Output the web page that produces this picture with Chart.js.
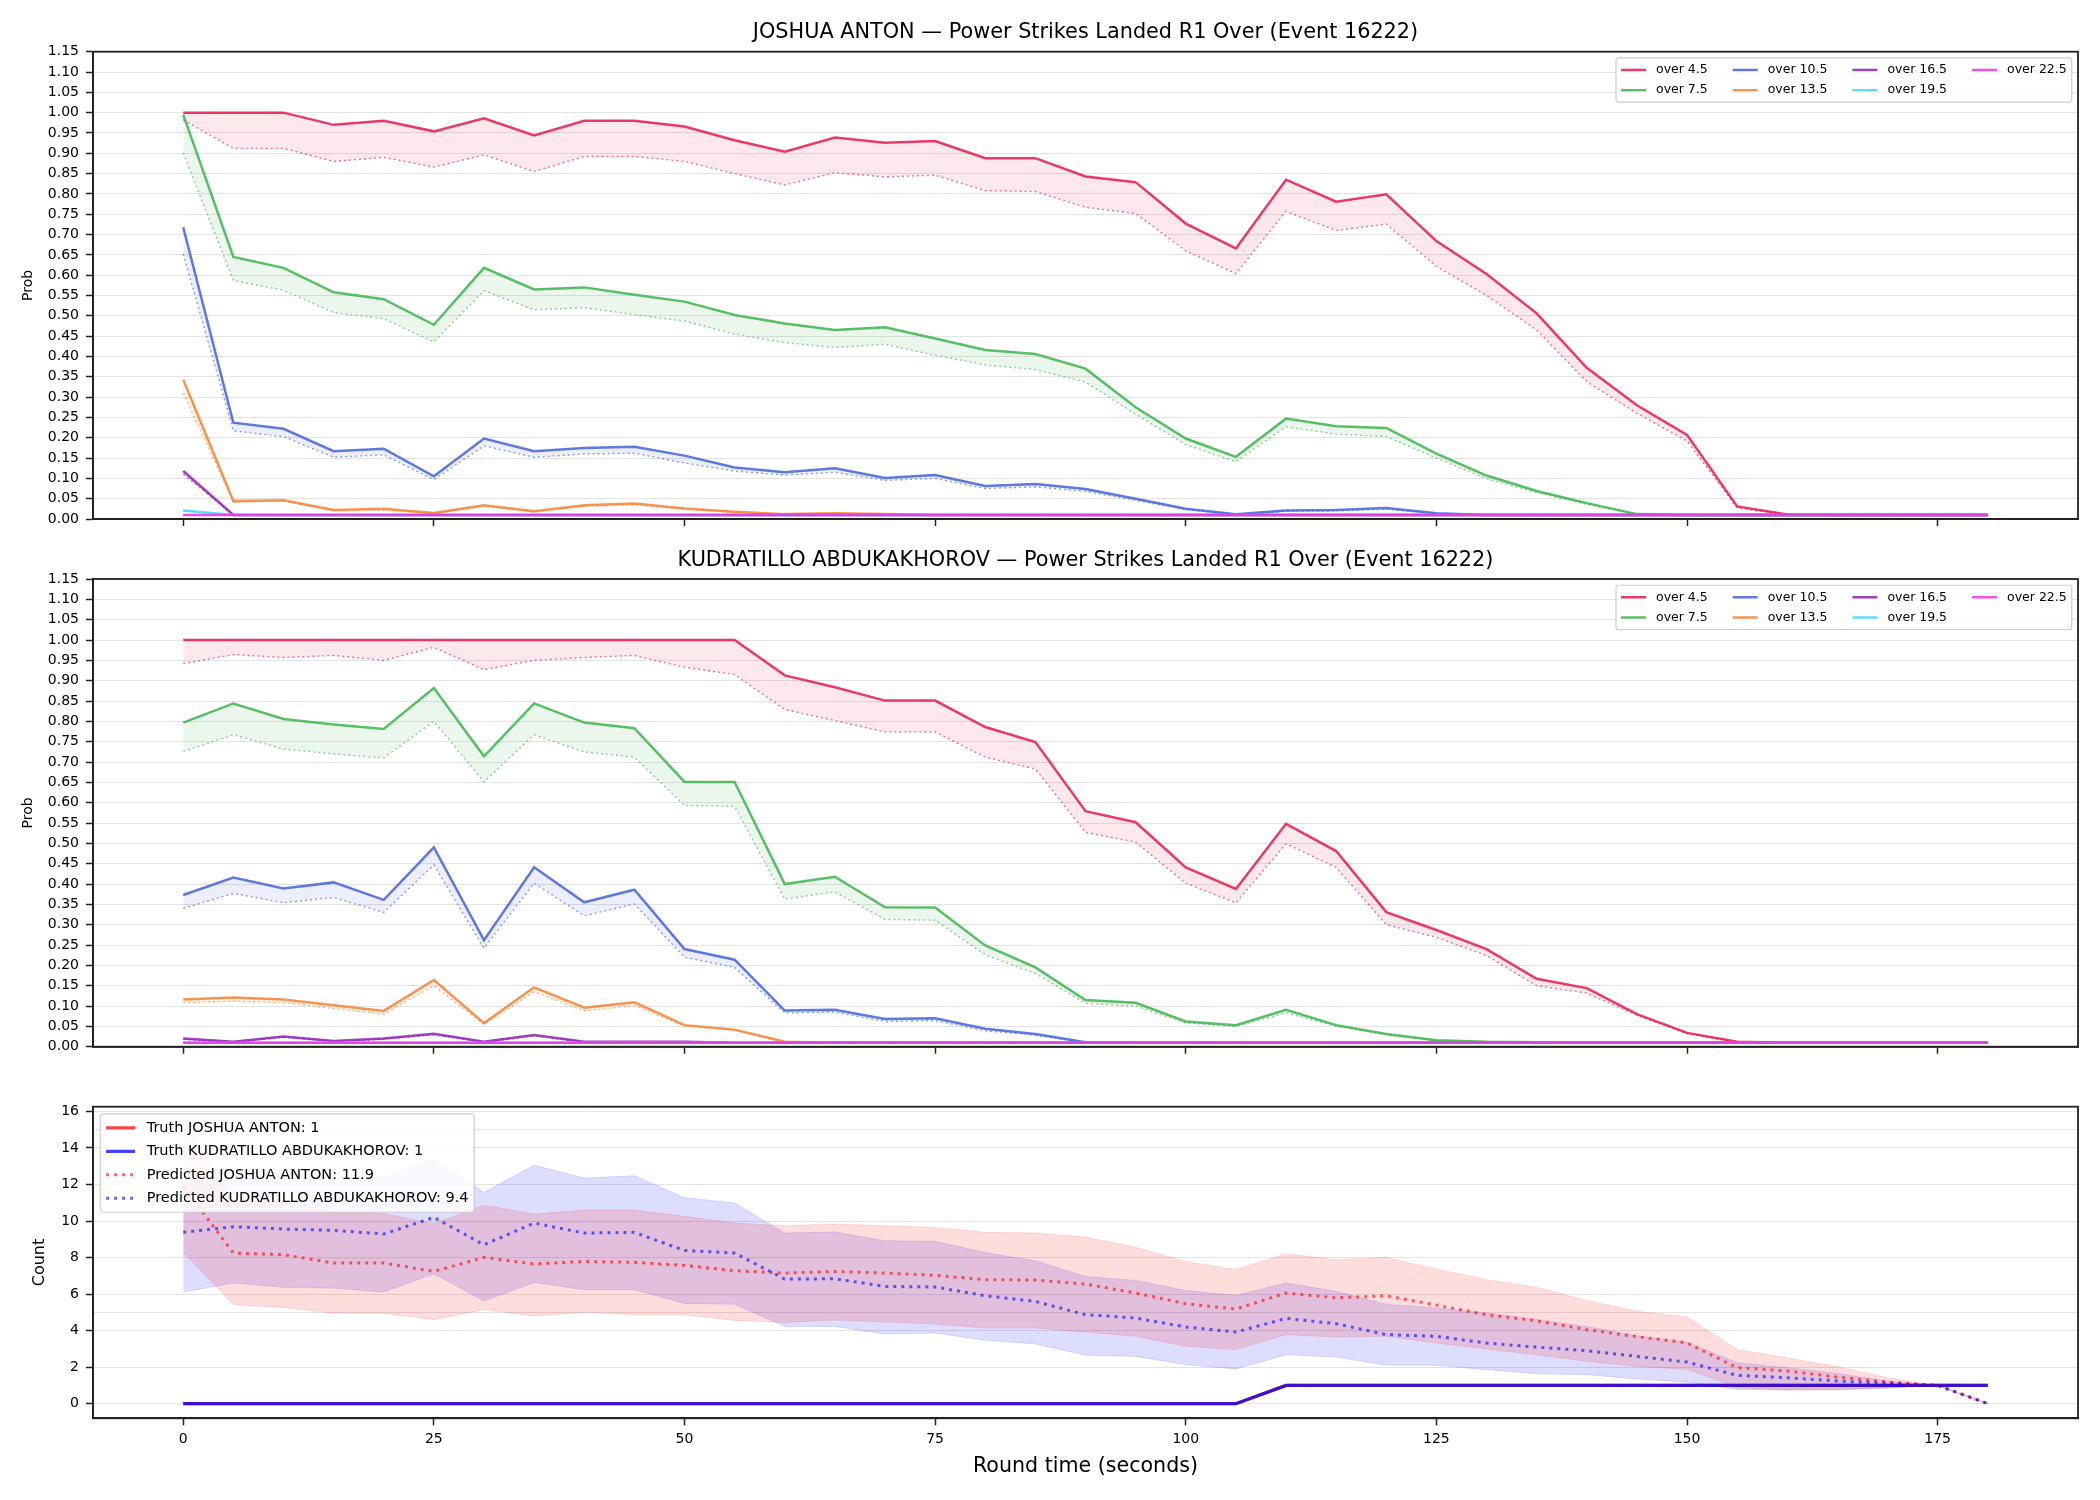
<!DOCTYPE html>
<html>
<head>
<meta charset="utf-8">
<script src="https://cdn.jsdelivr.net/npm/chart.js@4.4.1/dist/chart.umd.min.js"></script>
<style>
  html, body { margin: 0; padding: 0; background: #fff; }
  #wrap { position: relative; width: 2100px; height: 1500px; }
  canvas { position: absolute; left: 0; }
</style>
</head>
<body>
<div id="wrap">
  <canvas id="panelA" width="2100" height="540" style="top:0px"></canvas>
  <canvas id="panelB" width="2100" height="536" style="top:540px"></canvas>
  <canvas id="panelC" width="2100" height="424" style="top:1076px"></canvas>
</div>
<script>
// round time (seconds)
const times = [0, 5, 10, 15, 20, 25, 30, 35, 40, 45, 50, 55, 60, 65, 70, 75, 80, 85, 90, 95,
  100, 105, 110, 115, 120, 125, 130, 135, 140, 145, 150, 155, 160, 165, 170, 175, 180];
const timeTicks = [0, 25, 50, 75, 100, 125, 150, 175];
const probTicks = [0, 0.05, 0.10, 0.15, 0.20, 0.25, 0.30, 0.35, 0.40, 0.45, 0.50, 0.55,
  0.60, 0.65, 0.70, 0.75, 0.80, 0.85, 0.90, 0.95, 1.00, 1.05, 1.10, 1.15];
const countTicks = [0, 2, 4, 6, 8, 10, 12, 14, 16];
const countExtraGrid = [5, 15];

const fighters = ['JOSHUA ANTON', 'KUDRATILLO ABDUKAKHOROV'];
const lines = ['over 4.5', 'over 7.5', 'over 10.5', 'over 13.5', 'over 16.5', 'over 19.5', 'over 22.5'];

// JOSHUA ANTON: market line (solid) and lower line (dotted)
const antonO45 = [1.000, 1.000, 1.000, 0.970, 0.980, 0.954, 0.986, 0.944, 0.980, 0.980,
  0.966, 0.932, 0.904, 0.939, 0.926, 0.930, 0.888, 0.888, 0.843, 0.829,
  0.727, 0.666, 0.835, 0.781, 0.799, 0.684, 0.603, 0.506, 0.372, 0.280,
  0.207, 0.031, 0.011, 0.010, 0.010, 0.010, 0.010];
const antonO45Low = [0.982, 0.912, 0.912, 0.880, 0.890, 0.866, 0.896, 0.855, 0.892, 0.892,
  0.880, 0.850, 0.822, 0.852, 0.842, 0.846, 0.808, 0.806, 0.767, 0.752,
  0.660, 0.604, 0.757, 0.710, 0.726, 0.622, 0.550, 0.465, 0.338, 0.260,
  0.192, 0.027, 0.010, 0.010, 0.010, 0.010, 0.010];
const antonO75 = [0.995, 0.645, 0.618, 0.558, 0.541, 0.478, 0.618, 0.565, 0.570, 0.552,
  0.535, 0.502, 0.481, 0.465, 0.472, 0.444, 0.416, 0.406, 0.370, 0.275,
  0.198, 0.153, 0.247, 0.228, 0.224, 0.161, 0.107, 0.069, 0.039, 0.012,
  0.010, 0.010, 0.010, 0.010, 0.010, 0.010, 0.010];
const antonO75Low = [0.901, 0.587, 0.563, 0.508, 0.493, 0.436, 0.562, 0.515, 0.520, 0.503,
  0.487, 0.455, 0.434, 0.422, 0.430, 0.403, 0.379, 0.368, 0.337, 0.258,
  0.183, 0.141, 0.227, 0.209, 0.203, 0.150, 0.099, 0.065, 0.036, 0.011,
  0.010, 0.010, 0.010, 0.010, 0.010, 0.010, 0.010];
const antonO105 = [0.718, 0.237, 0.222, 0.167, 0.173, 0.105, 0.198, 0.167, 0.175, 0.178,
  0.156, 0.127, 0.115, 0.125, 0.101, 0.108, 0.081, 0.086, 0.074, 0.050,
  0.025, 0.012, 0.021, 0.022, 0.027, 0.014, 0.010, 0.010, 0.010, 0.010,
  0.010, 0.010, 0.010, 0.010, 0.010, 0.010, 0.010];
const antonO105Low = [0.652, 0.217, 0.203, 0.152, 0.158, 0.097, 0.180, 0.152, 0.160, 0.162,
  0.138, 0.118, 0.108, 0.115, 0.095, 0.100, 0.075, 0.079, 0.068, 0.046,
  0.023, 0.011, 0.019, 0.020, 0.024, 0.013, 0.010, 0.010, 0.010, 0.010,
  0.010, 0.010, 0.010, 0.010, 0.010, 0.010, 0.010];
const antonO135 = [0.343, 0.044, 0.046, 0.022, 0.025, 0.015, 0.034, 0.019, 0.034, 0.038,
  0.026, 0.018, 0.012, 0.014, 0.012, 0.010, 0.010, 0.010, 0.010, 0.010,
  0.010, 0.010, 0.010, 0.010, 0.010, 0.010, 0.010, 0.010, 0.010, 0.010,
  0.010, 0.010, 0.010, 0.010, 0.010, 0.010, 0.010];
const antonO135Low = [0.310, 0.042, 0.044, 0.020, 0.022, 0.013, 0.031, 0.017, 0.031, 0.035,
  0.024, 0.016, 0.011, 0.013, 0.011, 0.010, 0.010, 0.010, 0.010, 0.010,
  0.010, 0.010, 0.010, 0.010, 0.010, 0.010, 0.010, 0.010, 0.010, 0.010,
  0.010, 0.010, 0.010, 0.010, 0.010, 0.010, 0.010];
const antonO165 = [0.118, 0.010, 0.010, 0.010, 0.010, 0.010, 0.010, 0.010, 0.010, 0.010,
  0.010, 0.010, 0.010, 0.010, 0.010, 0.010, 0.010, 0.010, 0.010, 0.010,
  0.010, 0.010, 0.010, 0.010, 0.010, 0.010, 0.010, 0.010, 0.010, 0.010,
  0.010, 0.010, 0.010, 0.010, 0.010, 0.010, 0.010];
const antonO165Low = [0.110, 0.010, 0.010, 0.010, 0.010, 0.010, 0.010, 0.010, 0.010, 0.010,
  0.010, 0.010, 0.010, 0.010, 0.010, 0.010, 0.010, 0.010, 0.010, 0.010,
  0.010, 0.010, 0.010, 0.010, 0.010, 0.010, 0.010, 0.010, 0.010, 0.010,
  0.010, 0.010, 0.010, 0.010, 0.010, 0.010, 0.010];
const antonO195 = [0.021, 0.010, 0.010, 0.010, 0.010, 0.010, 0.010, 0.010, 0.010, 0.010,
  0.010, 0.010, 0.010, 0.010, 0.010, 0.010, 0.010, 0.010, 0.010, 0.010,
  0.010, 0.010, 0.010, 0.010, 0.010, 0.010, 0.010, 0.010, 0.010, 0.010,
  0.010, 0.010, 0.010, 0.010, 0.010, 0.010, 0.010];
const antonO195Low = [0.019, 0.010, 0.010, 0.010, 0.010, 0.010, 0.010, 0.010, 0.010, 0.010,
  0.010, 0.010, 0.010, 0.010, 0.010, 0.010, 0.010, 0.010, 0.010, 0.010,
  0.010, 0.010, 0.010, 0.010, 0.010, 0.010, 0.010, 0.010, 0.010, 0.010,
  0.010, 0.010, 0.010, 0.010, 0.010, 0.010, 0.010];
const antonO225 = [0.010, 0.010, 0.010, 0.010, 0.010, 0.010, 0.010, 0.010, 0.010, 0.010,
  0.010, 0.010, 0.010, 0.010, 0.010, 0.010, 0.010, 0.010, 0.010, 0.010,
  0.010, 0.010, 0.010, 0.010, 0.010, 0.010, 0.010, 0.010, 0.010, 0.010,
  0.010, 0.010, 0.010, 0.010, 0.010, 0.010, 0.010];
const antonO225Low = [0.010, 0.010, 0.010, 0.010, 0.010, 0.010, 0.010, 0.010, 0.010, 0.010,
  0.010, 0.010, 0.010, 0.010, 0.010, 0.010, 0.010, 0.010, 0.010, 0.010,
  0.010, 0.010, 0.010, 0.010, 0.010, 0.010, 0.010, 0.010, 0.010, 0.010,
  0.010, 0.010, 0.010, 0.010, 0.010, 0.010, 0.010];

// KUDRATILLO ABDUKAKHOROV
const abduO45 = [1.000, 1.000, 1.000, 1.000, 1.000, 1.000, 1.000, 1.000, 1.000, 1.000,
  1.000, 1.000, 0.913, 0.884, 0.851, 0.851, 0.786, 0.749, 0.579, 0.552,
  0.441, 0.388, 0.548, 0.481, 0.331, 0.287, 0.240, 0.167, 0.144, 0.080,
  0.034, 0.012, 0.010, 0.010, 0.010, 0.010, 0.010];
const abduO45Low = [0.942, 0.964, 0.957, 0.962, 0.950, 0.982, 0.927, 0.950, 0.957, 0.962,
  0.933, 0.915, 0.829, 0.802, 0.774, 0.774, 0.712, 0.683, 0.527, 0.503,
  0.402, 0.354, 0.499, 0.441, 0.300, 0.269, 0.224, 0.150, 0.132, 0.077,
  0.032, 0.011, 0.010, 0.010, 0.010, 0.010, 0.010];
const abduO75 = [0.797, 0.844, 0.806, 0.792, 0.781, 0.882, 0.714, 0.844, 0.797, 0.783,
  0.651, 0.651, 0.400, 0.418, 0.343, 0.342, 0.249, 0.195, 0.115, 0.108,
  0.062, 0.053, 0.091, 0.053, 0.031, 0.016, 0.012, 0.011, 0.010, 0.010,
  0.010, 0.010, 0.010, 0.010, 0.010, 0.010, 0.010];
const abduO75Low = [0.726, 0.767, 0.732, 0.720, 0.710, 0.800, 0.651, 0.767, 0.725, 0.712,
  0.593, 0.591, 0.363, 0.381, 0.313, 0.311, 0.226, 0.180, 0.107, 0.100,
  0.058, 0.050, 0.083, 0.050, 0.029, 0.015, 0.011, 0.010, 0.010, 0.010,
  0.010, 0.010, 0.010, 0.010, 0.010, 0.010, 0.010];
const abduO105 = [0.373, 0.416, 0.389, 0.404, 0.361, 0.490, 0.262, 0.441, 0.355, 0.386,
  0.240, 0.214, 0.089, 0.091, 0.068, 0.070, 0.044, 0.031, 0.011, 0.010,
  0.010, 0.010, 0.010, 0.010, 0.010, 0.010, 0.010, 0.010, 0.010, 0.010,
  0.010, 0.010, 0.010, 0.010, 0.010, 0.010, 0.010];
const abduO105Low = [0.340, 0.377, 0.354, 0.367, 0.330, 0.447, 0.242, 0.402, 0.322, 0.351,
  0.220, 0.195, 0.083, 0.085, 0.062, 0.064, 0.039, 0.028, 0.010, 0.010,
  0.010, 0.010, 0.010, 0.010, 0.010, 0.010, 0.010, 0.010, 0.010, 0.010,
  0.010, 0.010, 0.010, 0.010, 0.010, 0.010, 0.010];
const abduO135 = [0.116, 0.121, 0.116, 0.102, 0.088, 0.164, 0.058, 0.146, 0.096, 0.109,
  0.053, 0.042, 0.012, 0.010, 0.010, 0.010, 0.010, 0.010, 0.010, 0.010,
  0.010, 0.010, 0.010, 0.010, 0.010, 0.010, 0.010, 0.010, 0.010, 0.010,
  0.010, 0.010, 0.010, 0.010, 0.010, 0.010, 0.010];
const abduO135Low = [0.108, 0.112, 0.108, 0.094, 0.080, 0.150, 0.055, 0.135, 0.088, 0.101,
  0.050, 0.040, 0.011, 0.010, 0.010, 0.010, 0.010, 0.010, 0.010, 0.010,
  0.010, 0.010, 0.010, 0.010, 0.010, 0.010, 0.010, 0.010, 0.010, 0.010,
  0.010, 0.010, 0.010, 0.010, 0.010, 0.010, 0.010];
const abduO165 = [0.020, 0.012, 0.025, 0.014, 0.020, 0.032, 0.012, 0.029, 0.012, 0.012,
  0.012, 0.010, 0.010, 0.010, 0.010, 0.010, 0.010, 0.010, 0.010, 0.010,
  0.010, 0.010, 0.010, 0.010, 0.010, 0.010, 0.010, 0.010, 0.010, 0.010,
  0.010, 0.010, 0.010, 0.010, 0.010, 0.010, 0.010];
const abduO165Low = [0.018, 0.011, 0.023, 0.013, 0.018, 0.029, 0.011, 0.026, 0.011, 0.011,
  0.011, 0.010, 0.010, 0.010, 0.010, 0.010, 0.010, 0.010, 0.010, 0.010,
  0.010, 0.010, 0.010, 0.010, 0.010, 0.010, 0.010, 0.010, 0.010, 0.010,
  0.010, 0.010, 0.010, 0.010, 0.010, 0.010, 0.010];
const abduO195 = [0.010, 0.010, 0.010, 0.010, 0.010, 0.010, 0.010, 0.010, 0.010, 0.010,
  0.010, 0.010, 0.010, 0.010, 0.010, 0.010, 0.010, 0.010, 0.010, 0.010,
  0.010, 0.010, 0.010, 0.010, 0.010, 0.010, 0.010, 0.010, 0.010, 0.010,
  0.010, 0.010, 0.010, 0.010, 0.010, 0.010, 0.010];
const abduO195Low = abduO195;
const abduO225 = [0.010, 0.010, 0.010, 0.010, 0.010, 0.010, 0.010, 0.010, 0.010, 0.010,
  0.010, 0.010, 0.010, 0.010, 0.010, 0.010, 0.010, 0.010, 0.010, 0.010,
  0.010, 0.010, 0.010, 0.010, 0.010, 0.010, 0.010, 0.010, 0.010, 0.010,
  0.010, 0.010, 0.010, 0.010, 0.010, 0.010, 0.010];
const abduO225Low = abduO225;

// count panel
const truthAnton = [0, 0, 0, 0, 0, 0, 0, 0, 0, 0, 0, 0, 0, 0, 0, 0, 0, 0, 0, 0, 0, 0,
  1, 1, 1, 1, 1, 1, 1, 1, 1, 1, 1, 1, 1, 1, 1];
const truthAbdu = [0, 0, 0, 0, 0, 0, 0, 0, 0, 0, 0, 0, 0, 0, 0, 0, 0, 0, 0, 0, 0, 0,
  1, 1, 1, 1, 1, 1, 1, 1, 1, 1, 1, 1, 1, 1, 1];
const predAnton = [11.9, 8.25, 8.16, 7.70, 7.70, 7.24, 8.01, 7.65, 7.79, 7.74,
  7.57, 7.28, 7.15, 7.24, 7.15, 7.03, 6.79, 6.77, 6.55, 6.06,
  5.47, 5.18, 6.06, 5.80, 5.91, 5.40, 4.87, 4.54, 4.05, 3.67,
  3.33, 1.97, 1.79, 1.46, 1.18, 1.00, 0.00];
const predAbdu = [9.38, 9.69, 9.56, 9.49, 9.29, 10.20, 8.70, 9.89, 9.34, 9.38,
  8.39, 8.25, 6.82, 6.84, 6.42, 6.39, 5.91, 5.60, 4.87, 4.69,
  4.20, 3.92, 4.67, 4.38, 3.78, 3.69, 3.32, 3.10, 2.90, 2.59,
  2.28, 1.55, 1.42, 1.24, 1.11, 1.00, 0.00];
const antonHigh = [15.5, 11.08, 10.99, 10.47, 10.40, 9.85, 10.87, 10.38, 10.60, 10.60,
  10.26, 9.89, 9.74, 9.84, 9.74, 9.65, 9.38, 9.34, 9.12, 8.56,
  7.79, 7.34, 8.21, 7.88, 8.01, 7.37, 6.79, 6.37, 5.65, 5.06,
  4.75, 2.97, 2.51, 2.02, 1.42, 1.00, 0.00];
const antonLow = [8.28, 5.42, 5.27, 4.95, 4.95, 4.60, 5.16, 4.80, 5.00, 4.87,
  4.87, 4.56, 4.45, 4.58, 4.47, 4.36, 4.14, 4.14, 3.92, 3.69,
  3.14, 2.96, 3.78, 3.65, 3.69, 3.32, 2.99, 2.68, 2.32, 2.04,
  1.88, 0.87, 0.75, 0.75, 0.87, 1.00, 0.00];
const abduHigh = [12.6, 12.8, 12.6, 12.5, 12.4, 13.36, 11.57, 13.05, 12.35, 12.48,
  11.28, 10.99, 9.34, 9.40, 8.92, 8.89, 8.28, 7.83, 6.97, 6.75,
  6.20, 5.93, 6.61, 6.15, 5.44, 5.24, 4.96, 4.60, 4.23, 3.72,
  3.37, 2.24, 1.97, 1.66, 1.24, 1.00, 0.00];
const abduLow = [6.11, 6.61, 6.37, 6.33, 6.11, 7.12, 5.62, 6.64, 6.24, 6.24,
  5.49, 5.44, 4.23, 4.23, 3.81, 3.87, 3.47, 3.27, 2.65, 2.59,
  2.14, 1.90, 2.68, 2.55, 2.10, 2.10, 1.86, 1.64, 1.59, 1.35,
  1.18, 0.78, 0.75, 0.78, 0.85, 1.00, 0.00];

// colours
const lineColors = ['230,25,75', '60,180,75', '67,99,216', '245,130,49', '145,30,180', '66,212,244', '240,50,230'];
const rgba = (c, a) => 'rgba(' + c + ',' + a + ')';
const FONT = '"DejaVu Sans", sans-serif';

Chart.defaults.font.family = FONT;
Chart.defaults.color = '#000';

// frame round the plot area (all four spines)
const frame = {
  id: 'frame',
  afterDatasetsDraw(chart) {
    const { ctx, chartArea: a } = chart;
    ctx.save();
    ctx.strokeStyle = '#222';
    ctx.lineWidth = 1.8;
    ctx.strokeRect(a.left, a.top, a.right - a.left, a.bottom - a.top);
    ctx.restore();
  }
};

// title centred over the plot area
const axTitle = {
  id: 'axTitle',
  afterDraw(chart, args, opts) {
    if (!opts.text) return;
    const { ctx, chartArea: a } = chart;
    ctx.save();
    ctx.font = '20.8px ' + FONT;
    ctx.fillStyle = '#000';
    ctx.textAlign = 'center';
    ctx.textBaseline = 'middle';
    ctx.fillText(opts.text, (a.left + a.right) / 2, a.top - 18.7);
    ctx.restore();
  }
};

// boxed legend inside the plot, columns filled top to bottom
const boxLegend = {
  id: 'boxLegend',
  afterDatasetsDraw(chart, args, opts) {
    const items = chart.data.datasets.filter(d => d.inLegend);
    if (!items.length) return;
    const f = opts.fontSize, cols = opts.columns;
    const rows = Math.ceil(items.length / cols);
    const ctx = chart.ctx;
    ctx.save();
    ctx.font = f + 'px ' + FONT;
    const colW = [];
    for (let c = 0; c < cols; c++) {
      let w = 0;
      for (let r = 0; r < rows; r++) {
        const it = items[c * rows + r];
        if (it) w = Math.max(w, ctx.measureText(it.label).width);
      }
      colW.push(w);
    }
    const pad = 0.4 * f, hl = 2 * f, htp = 0.8 * f, cs = 2 * f, ls = 0.5 * f, rh = 1.12 * f, bap = 0.5 * f;
    const width = 2 * pad + colW.reduce((s, w) => s + hl + htp + w, 0) + cs * (cols - 1);
    const height = 2 * pad + rows * rh + (rows - 1) * ls;
    const a = chart.chartArea;
    const x0 = opts.corner === 'left' ? a.left + bap : a.right - bap - width;
    const y0 = a.top + bap;
    ctx.beginPath();
    if (ctx.roundRect) ctx.roundRect(x0, y0, width, height, 0.25 * f);
    else ctx.rect(x0, y0, width, height);
    ctx.fillStyle = 'rgba(255,255,255,0.8)';
    ctx.fill();
    ctx.strokeStyle = '#cccccc';
    ctx.lineWidth = 1.2;
    ctx.stroke();
    let x = x0 + pad;
    for (let c = 0; c < cols; c++) {
      for (let r = 0; r < rows; r++) {
        const it = items[c * rows + r];
        if (!it) continue;
        const cy = y0 + pad + r * (rh + ls) + rh / 2;
        ctx.beginPath();
        ctx.setLineDash(it.borderDash || []);
        ctx.strokeStyle = it.borderColor;
        ctx.lineWidth = it.borderWidth;
        ctx.moveTo(x, cy);
        ctx.lineTo(x + hl, cy);
        ctx.stroke();
        ctx.setLineDash([]);
        ctx.fillStyle = '#000';
        ctx.textAlign = 'left';
        ctx.textBaseline = 'middle';
        ctx.fillText(it.label, x + hl + htp, cy);
      }
      x += hl + htp + colW[c] + cs;
    }
    ctx.restore();
  }
};

function xAxis(axisHeight, withLabels) {
  return {
    type: 'linear', min: -9, max: 189,
    afterBuildTicks: ax => { ax.ticks = timeTicks.map(v => ({ value: v })); },
    afterFit: ax => { ax.height = axisHeight; },
    ticks: { display: withLabels, autoSkip: false, maxRotation: 0, padding: 6, color: '#000', font: { size: 14 } },
    grid: { drawOnChartArea: false, tickLength: 7, tickColor: '#222', tickWidth: 1.5 },
    border: { color: '#222', width: 1.8 },
    title: {
      display: withLabels, text: 'Round time (seconds)', color: '#000',
      font: { size: 20.6 }, padding: { top: 0, bottom: 21 }
    }
  };
}

function probChart(id, title, hi, lo, padTop, xHeight) {
  const datasets = [];
  hi.forEach((vals, k) => {
    datasets.push({
      label: lines[k], data: vals, inLegend: true,
      borderColor: rgba(lineColors[k], 0.85), borderWidth: 2.5,
      backgroundColor: rgba(lineColors[k], 0.1), fill: '+1'
    });
    datasets.push({
      label: lines[k] + ' (low)', data: lo[k],
      borderColor: rgba(lineColors[k], 0.6), borderWidth: 1.4, borderDash: [2, 3],
      fill: false
    });
  });
  datasets.forEach((d, i) => { d.order = -i; d.pointRadius = 0; d.tension = 0; });

  return new Chart(document.getElementById(id), {
    type: 'line',
    data: { labels: times, datasets: datasets },
    options: {
      responsive: false, animation: false,
      layout: { padding: { top: padTop, right: 22, left: 0, bottom: 0 } },
      plugins: {
        legend: { display: false }, tooltip: { enabled: false },
        axTitle: { text: title },
        boxLegend: { fontSize: 12.5, columns: 4, corner: 'right' }
      },
      scales: {
        x: xAxis(xHeight, false),
        y: {
          type: 'linear', min: 0, max: 1.15,
          afterBuildTicks: ax => { ax.ticks = probTicks.map(v => ({ value: v })); },
          afterFit: ax => { ax.width = 93; },
          ticks: { autoSkip: false, padding: 7, color: '#000', font: { size: 14 }, callback: v => v.toFixed(2) },
          grid: { color: '#e3e3e3', lineWidth: 1, tickLength: 7, tickColor: '#222', tickWidth: 1.5 },
          border: { color: '#222', width: 1.8 },
          title: { display: true, text: 'Prob', color: '#000', font: { size: 14 }, padding: { top: 20, bottom: 0 } }
        }
      }
    },
    plugins: [frame, axTitle, boxLegend]
  });
}

const suffix = ' \u2014 Power Strikes Landed R1 Over (Event 16222)';
probChart('panelA', fighters[0] + suffix,
  [antonO45, antonO75, antonO105, antonO135, antonO165, antonO195, antonO225],
  [antonO45Low, antonO75Low, antonO105Low, antonO135Low, antonO165Low, antonO195Low, antonO225Low],
  51.7, 21);
probChart('panelB', fighters[1] + suffix,
  [abduO45, abduO75, abduO105, abduO135, abduO165, abduO195, abduO225],
  [abduO45Low, abduO75Low, abduO105Low, abduO135Low, abduO165Low, abduO195Low, abduO225Low],
  39, 29.3);

// count panel
const countSets = [
  { label: 'band B high', data: abduHigh, borderColor: 'rgba(0,0,255,0.12)', borderWidth: 1, backgroundColor: 'rgba(0,0,255,0.135)', fill: '+1' },
  { label: 'band B low', data: abduLow, borderColor: 'rgba(0,0,255,0.12)', borderWidth: 1, fill: false },
  { label: 'band A high', data: antonHigh, borderColor: 'rgba(255,0,0,0.12)', borderWidth: 1, backgroundColor: 'rgba(255,0,0,0.135)', fill: '+1' },
  { label: 'band A low', data: antonLow, borderColor: 'rgba(255,0,0,0.12)', borderWidth: 1, fill: false },
  { label: 'Truth ' + fighters[0] + ': ' + truthAnton[truthAnton.length - 1], data: truthAnton, inLegend: true,
    borderColor: 'rgba(255,0,0,0.75)', borderWidth: 3.2, fill: false },
  { label: 'Truth ' + fighters[1] + ': ' + truthAbdu[truthAbdu.length - 1], data: truthAbdu, inLegend: true,
    borderColor: 'rgba(0,0,255,0.75)', borderWidth: 3.2, fill: false },
  { label: 'Predicted ' + fighters[0] + ': ' + predAnton[0].toFixed(1), data: predAnton, inLegend: true,
    borderColor: 'rgba(255,0,0,0.6)', borderWidth: 3, borderDash: [3, 5], fill: false },
  { label: 'Predicted ' + fighters[1] + ': ' + predAbdu[0].toFixed(1), data: predAbdu, inLegend: true,
    borderColor: 'rgba(0,0,255,0.6)', borderWidth: 3, borderDash: [3, 5], fill: false }
];
countSets.forEach((d, i) => { d.order = -i; d.pointRadius = 0; d.tension = 0; });

new Chart(document.getElementById('panelC'), {
  type: 'line',
  data: { labels: times, datasets: countSets },
  options: {
    responsive: false, animation: false,
    layout: { padding: { top: 30.7, right: 22, left: 0, bottom: 0 } },
    plugins: {
      legend: { display: false }, tooltip: { enabled: false },
      boxLegend: { fontSize: 14.5, columns: 1, corner: 'left' }
    },
    scales: {
      x: xAxis(81.7, true),
      y: {
        type: 'linear', min: -0.8, max: 16.26,
        afterBuildTicks: ax => {
          ax.ticks = countTicks.concat(countExtraGrid).sort((a, b) => a - b).map(v => ({ value: v }));
        },
        afterFit: ax => { ax.width = 93; },
        ticks: {
          autoSkip: false, padding: 7, color: '#000', font: { size: 14 },
          callback: v => countExtraGrid.includes(v) ? '' : String(v)
        },
        grid: {
          color: '#e3e3e3', lineWidth: 1, tickLength: 7, tickWidth: 1.5,
          tickColor: c => countExtraGrid.includes(c.tick.value) ? 'rgba(0,0,0,0)' : '#222'
        },
        border: { color: '#222', width: 1.8 },
        title: { display: true, text: 'Count', color: '#000', font: { size: 16 }, padding: { top: 30, bottom: 0 } }
      }
    }
  },
  plugins: [frame, boxLegend]
});
</script>
</body>
</html>
